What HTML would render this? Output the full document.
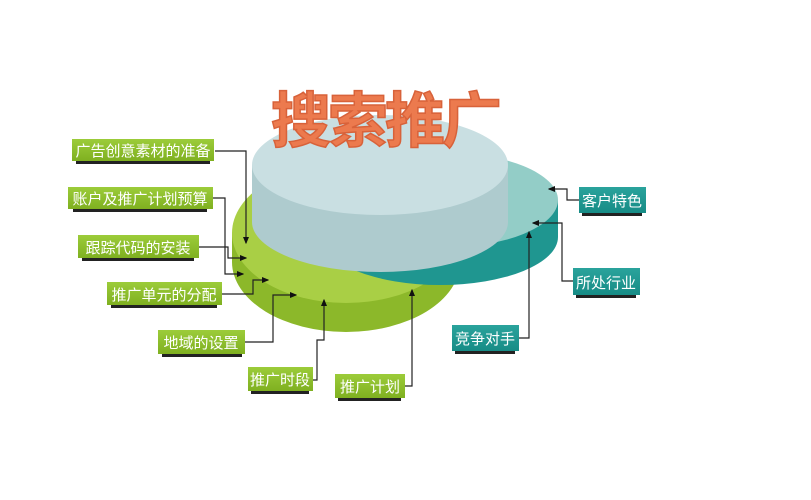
<!DOCTYPE html>
<html><head><meta charset="utf-8"><style>
html,body{margin:0;padding:0;background:#fff;}
svg{display:block;}
text{font-family:"Liberation Sans","Noto Sans CJK SC",sans-serif;}
</style></head><body>
<svg width="811" height="500" viewBox="0 0 811 500" xmlns="http://www.w3.org/2000/svg">
<defs>
<linearGradient id="gbox" x1="0" y1="0" x2="0" y2="1"><stop offset="0" stop-color="#9ccc3a"/><stop offset="1" stop-color="#7fb020"/></linearGradient>
<linearGradient id="tbox" x1="0" y1="0" x2="0" y2="1"><stop offset="0" stop-color="#2aa39c"/><stop offset="1" stop-color="#178c86"/></linearGradient>
<marker id="ar" markerWidth="6" markerHeight="6" refX="5" refY="3" orient="auto"><path d="M0,0.5 L6,3 L0,5.5z" fill="#111"/></marker>
</defs>
<path d="M232,233 L232,262 A114,70 0 0 0 460,262 L460,233 Z" fill="#8cb82a"/>
<ellipse cx="346" cy="233" rx="114" ry="70" fill="#a9cf45"/>
<path d="M322,200 L322,237 A118,48 0 0 0 558,237 L558,200 Z" fill="#1f9690"/>
<ellipse cx="440" cy="200" rx="118" ry="48" fill="#93cdc7"/>
<path d="M252,165 L252,222 A128,50 0 0 0 508,222 L508,165 Z" fill="#aecbce"/>
<ellipse cx="380" cy="165" rx="128" ry="50" fill="#c9dfe2"/>
<text x="385" y="142" text-anchor="middle" font-size="60" font-weight="bold" fill="#ec7a4e" stroke="#d8623a" stroke-width="1.5" letter-spacing="-3">搜索推广</text>
<g fill="none" stroke="#222" stroke-width="1.2" marker-end="url(#ar)">
<path d="M215,151 L246,151 L246,243"/>
<path d="M213,198 L225,198 L225,274 L243,274"/>
<path d="M199,247 L228,247 L228,258 L246,258"/>
<path d="M222,294 L253,294 L253,280 L268,280"/>
<path d="M245,342 L273,342 L273,295 L296,295"/>
<path d="M313,380 L317,380 L317,340 L324,340 L324,300"/>
<path d="M405,386 L412,386 L412,290"/>
<path d="M579,200 L567,200 L567,189 L549,189"/>
<path d="M573,281 L562,281 L562,223 L533,223"/>
<path d="M519,338 L529,338 L529,232"/>
</g>
<g font-size="15" fill="#fff">
<rect x="76" y="160" width="134" height="4" fill="#222"/>
<rect x="72" y="139" width="142" height="22" fill="url(#gbox)"/><text x="143" y="156" text-anchor="middle">广告创意素材的准备</text>
<rect x="73" y="208" width="134" height="4" fill="#222"/>
<rect x="68" y="187" width="145" height="22" fill="url(#gbox)"/><text x="140" y="204" text-anchor="middle">账户及推广计划预算</text>
<rect x="82" y="257" width="112" height="4" fill="#222"/>
<rect x="78" y="235" width="121" height="23" fill="url(#gbox)"/><text x="138" y="253" text-anchor="middle">跟踪代码的安装</text>
<rect x="111" y="304" width="106" height="4" fill="#222"/>
<rect x="107" y="282" width="115" height="23" fill="url(#gbox)"/><text x="164" y="300" text-anchor="middle">推广单元的分配</text>
<rect x="162" y="353" width="80" height="4" fill="#222"/>
<rect x="158" y="330" width="87" height="24" fill="url(#gbox)"/><text x="201" y="348" text-anchor="middle">地域的设置</text>
<rect x="251" y="390" width="58" height="4" fill="#222"/>
<rect x="248" y="367" width="65" height="24" fill="url(#gbox)"/><text x="280" y="385" text-anchor="middle">推广时段</text>
<rect x="338" y="397" width="63" height="4" fill="#222"/>
<rect x="335" y="374" width="70" height="24" fill="url(#gbox)"/><text x="370" y="392" text-anchor="middle">推广计划</text>
<rect x="582" y="212" width="60" height="4" fill="#222"/>
<rect x="579" y="187" width="67" height="26" fill="url(#tbox)"/><text x="612" y="206" text-anchor="middle">客户特色</text>
<rect x="576" y="294" width="60" height="4" fill="#222"/>
<rect x="573" y="268" width="67" height="27" fill="url(#tbox)"/><text x="606" y="288" text-anchor="middle">所处行业</text>
<rect x="455" y="350" width="60" height="4" fill="#222"/>
<rect x="452" y="325" width="67" height="26" fill="url(#tbox)"/><text x="485" y="344" text-anchor="middle">竞争对手</text>
</g>
</svg>
</body></html>
